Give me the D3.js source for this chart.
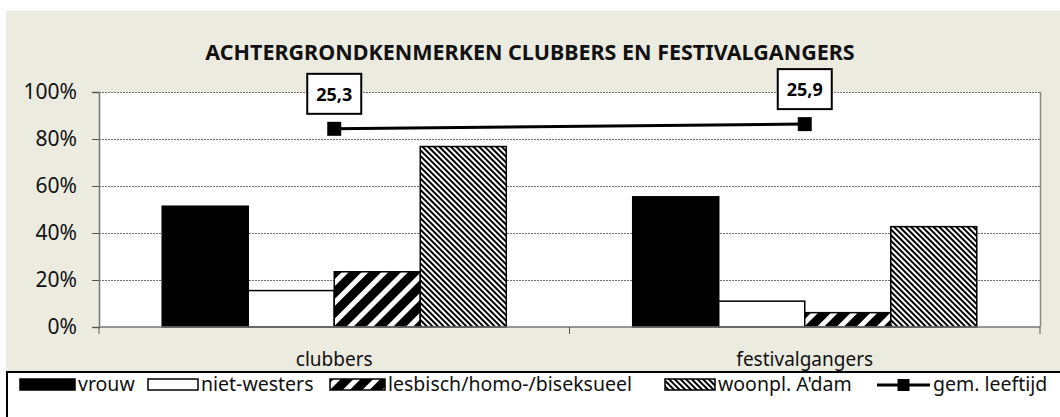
<!DOCTYPE html>
<html lang="nl">
<head>
<meta charset="UTF-8">
<title>Achtergrondkenmerken clubbers en festivalgangers</title>
<script src="https://cdnjs.cloudflare.com/ajax/libs/d3/7.8.5/d3.min.js"></script>
<style>
    body { margin: 0; background: #fff; }
    svg { display: block; font-family: "Noto Sans", sans-serif; }
</style>
</head>
<body>
<svg id="chart" width="1060" height="417"></svg>
<script>
// data
const categories = ["clubbers", "festivalgangers"];
const series = ["vrouw", "niet-westers", "lesbisch/homo-/biseksueel", "woonpl. A'dam"];
const vrouw = [0.514, 0.554];
const nietWesters = [0.155, 0.11];
const lesbisch = [0.235, 0.061];
const woonpl = [0.768, 0.427];
const leeftijd = [25.3, 25.9];
const lineName = "gem. leeftijd";
const yTicks = [0, 0.2, 0.4, 0.6, 0.8, 1];
const title = "ACHTERGRONDKENMERKEN CLUBBERS EN FESTIVALGANGERS";

const seriesValues = [vrouw, nietWesters, lesbisch, woonpl];

const svg = d3.select("#chart");
const defs = svg.append("defs");

// patterns
const p1 = defs.append("pattern").attr("id", "wide").attr("patternUnits", "userSpaceOnUse")
    .attr("width", 14).attr("height", 14).attr("patternTransform", "rotate(45)");
p1.append("rect").attr("width", 14).attr("height", 14).attr("fill", "#000");
p1.append("rect").attr("x", 0).attr("width", 5).attr("height", 14).attr("fill", "#fff");

const p2 = defs.append("pattern").attr("id", "dense").attr("patternUnits", "userSpaceOnUse")
    .attr("width", 4).attr("height", 4).attr("patternTransform", "rotate(-45)");
p2.append("rect").attr("width", 4).attr("height", 4).attr("fill", "#fff");
p2.append("rect").attr("width", 2).attr("height", 4).attr("fill", "#000");

const fills = ["#000", "#fff", "url(#wide)", "url(#dense)"];

// background
svg.append("rect").attr("x", 6).attr("y", 11).attr("width", 1054).attr("height", 406).attr("fill", "#ecebe0");

const plotL = 99, plotR = 1040, plotT = 92, plotB = 327;

const x0 = d3.scaleBand().domain(categories).range([plotL, plotR]);
const x1 = d3.scaleBand().domain(series).range([0, x0.bandwidth()]).paddingOuter(0.735);
const y = d3.scaleLinear().domain([0, 1]).range([plotB, plotT]);
const y2 = d3.scaleLinear().domain([0, 30]).range([plotB, plotT]);

// plot area
svg.append("rect").attr("x", plotL).attr("y", plotT).attr("width", plotR - plotL).attr("height", plotB - plotT).attr("fill", "#fff");

// gridlines
svg.append("g").selectAll("line").data(yTicks.filter(d => d > 0)).join("line")
    .attr("x1", plotL).attr("x2", plotR)
    .attr("y1", d => y(d) + 0.5).attr("y2", d => y(d) + 0.5)
    .attr("stroke", "#6f6f6f").attr("stroke-width", 1).attr("stroke-dasharray", "2,1");

// right border
svg.append("line").attr("x1", plotR + 0.5).attr("x2", plotR + 0.5).attr("y1", plotT).attr("y2", plotB)
    .attr("stroke", "#888").attr("stroke-width", 1.5);

// bars
const groups = svg.append("g").selectAll("g").data(categories).join("g")
    .attr("transform", d => `translate(${x0(d)},0)`);
groups.selectAll("rect")
    .data((c, ci) => series.map((s, si) => ({ s, si, v: seriesValues[si][ci] })))
    .join("rect")
    .attr("x", d => x1(d.s))
    .attr("y", d => y(d.v))
    .attr("width", x1.bandwidth())
    .attr("height", d => y(0) - y(d.v))
    .attr("fill", d => fills[d.si])
    .attr("stroke", "#000").attr("stroke-width", 1.5);

// y axis
const yAxis = svg.append("g").attr("transform", `translate(${plotL},0)`)
    .call(d3.axisLeft(y).tickValues(yTicks).tickFormat(d => Math.round(d * 100) + "%").tickSize(7).tickPadding(15));
yAxis.select(".domain").attr("stroke", "#777").attr("stroke-width", 1.5);
yAxis.selectAll(".tick line").attr("stroke", "#555");
yAxis.selectAll("text").attr("font-size", 21).attr("fill", "#111").attr("font-family", "Noto Sans");

// x axis
const xAxis = svg.append("g").attr("transform", `translate(0,${plotB})`);
xAxis.append("line").attr("x1", plotL).attr("x2", plotR).attr("stroke", "#777").attr("stroke-width", 1.5);
xAxis.selectAll(".bt").data([plotL, x0(categories[1]), plotR]).join("line").attr("class", "bt")
    .attr("x1", d => d).attr("x2", d => d).attr("y1", 0).attr("y2", 7).attr("stroke", "#555");
xAxis.selectAll(".cl").data(categories).join("text").attr("class", "cl")
    .attr("x", d => x0(d) + x0.bandwidth() / 2).attr("y", 39)
    .attr("text-anchor", "middle").attr("font-size", 19).attr("fill", "#111").text(d => d);

// line
const pts = categories.map((c, i) => ({ x: x0(c) + x0.bandwidth() / 2, y: y2(leeftijd[i]), v: leeftijd[i] }));
svg.append("path").datum(pts)
    .attr("d", d3.line().x(d => d.x).y(d => d.y))
    .attr("fill", "none").attr("stroke", "#000").attr("stroke-width", 3);
svg.append("g").selectAll("rect").data(pts).join("rect")
    .attr("x", d => d.x - 7).attr("y", d => d.y - 7).attr("width", 14).attr("height", 14).attr("fill", "#000");

// data labels
const lab = svg.append("g").selectAll("g").data(pts).join("g")
    .attr("transform", d => `translate(${d.x},${d.y - 15})`);
lab.append("rect").attr("x", -27).attr("y", -40).attr("width", 54).attr("height", 40)
    .attr("fill", "#fff").attr("stroke", "#000").attr("stroke-width", 2);
lab.append("text").attr("y", -13).attr("text-anchor", "middle").attr("font-size", 18).attr("font-weight", "bold")
    .text(d => d.v.toFixed(1).replace(".", ","));

// title
svg.append("text").attr("x", 530).attr("y", 60).attr("text-anchor", "middle")
    .attr("font-size", 21.5).attr("font-weight", "bold").attr("fill", "#111").text(title);

// legend
svg.append("rect").attr("x", 7).attr("y", 372).attr("width", 1070).attr("height", 60)
    .attr("fill", "#fff").attr("stroke", "#000").attr("stroke-width", 2);
const legendX = [20, 148, 330, 665, 877];
const swW = [55, 50, 55, 50, 53];
const lg = svg.append("g");
series.forEach((s, i) => {
    lg.append("rect").attr("x", legendX[i]).attr("y", 379).attr("width", swW[i]).attr("height", 11)
        .attr("fill", fills[i]).attr("stroke", "#000").attr("stroke-width", 1.5);
    lg.append("text").attr("x", legendX[i] + swW[i] + 3).attr("y", 391)
        .attr("font-size", 19.5).attr("fill", "#111").text(s);
});
const lx = legendX[4];
lg.append("line").attr("x1", lx).attr("x2", lx + swW[4]).attr("y1", 385).attr("y2", 385).attr("stroke", "#000").attr("stroke-width", 3);
lg.append("rect").attr("x", lx + swW[4] / 2 - 6).attr("y", 379).attr("width", 12).attr("height", 12).attr("fill", "#000");
lg.append("text").attr("x", lx + swW[4] + 3).attr("y", 391).attr("font-size", 19.5).attr("fill", "#111").text(lineName);
</script>
</body>
</html>
